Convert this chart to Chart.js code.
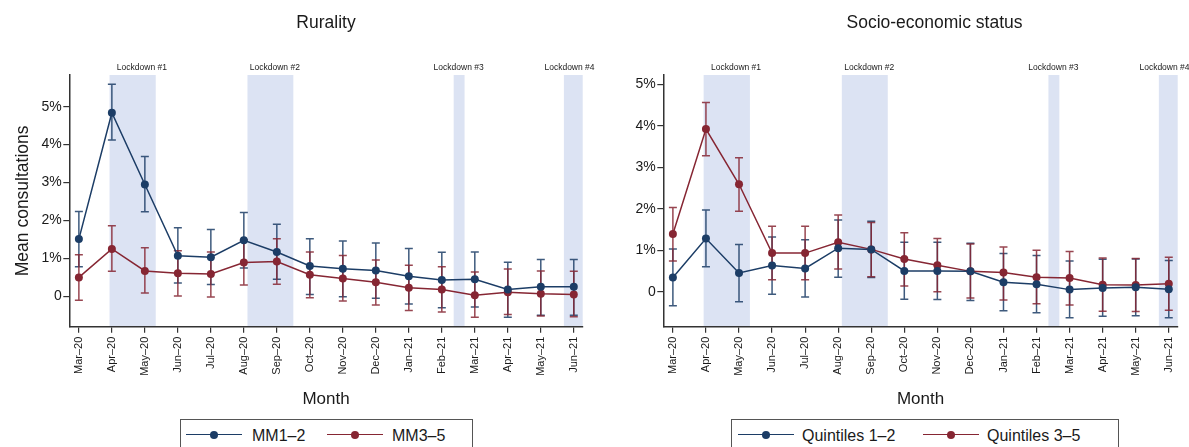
<!DOCTYPE html>
<html>
<head>
<meta charset="utf-8">
<script src="https://cdn.jsdelivr.net/npm/chart.js@4.4.0/dist/chart.umd.min.js"></script>
<style>
  body { margin: 0; background: #fff; width: 1189px; height: 447px; overflow: hidden; position: relative;
         font-family: "Liberation Sans", Arial, sans-serif; color: #1a1a1a; }
  canvas { position: absolute; top: 0; }
  .legend { position: absolute; top: 419px; height: 40px; border: 1px solid #555; box-sizing: border-box; background: #fff; }
  .legend .ln { position: absolute; top: 14px; height: 0; border-top: 1.5px solid; }
  .legend .dot { position: absolute; top: 11px; width: 8px; height: 8px; border-radius: 50%; }
  .legend .txt { position: absolute; top: 7px; font-size: 16px; line-height: 18px; white-space: nowrap; }
</style>
</head>
<body>
<canvas id="rurality" width="610" height="420" style="left:0"></canvas>
<canvas id="ses" width="589" height="420" style="left:600px"></canvas>
<div class="legend" id="leg-rurality" style="left:180px;width:293px"></div>
<div class="legend" id="leg-ses" style="left:731px;width:388px"></div>
<script>
// months on the x axis
const months = ['Mar–20', 'Apr–20', 'May–20', 'Jun–20', 'Jul–20', 'Aug–20', 'Sep–20', 'Oct–20',
                'Nov–20', 'Dec–20', 'Jan–21', 'Feb–21', 'Mar–21', 'Apr–21', 'May–21', 'Jun–21'];

// lockdown periods, in month-index units
const lockNames = ['Lockdown #1', 'Lockdown #2', 'Lockdown #3', 'Lockdown #4'];
const lockStart = [0.93, 5.11, 11.36, 14.7];
const lockEnd = [2.33, 6.5, 11.69, 15.6];
const lockLabelAt = [1.91, 5.94, 11.51, 14.87];

// Rurality (mean consultations, %)
const mm12 = [1.51, 4.84, 2.95, 1.07, 1.03, 1.48, 1.17, 0.80, 0.73, 0.68, 0.53, 0.43, 0.45, 0.18, 0.25, 0.25];
const mm12Lo = [0.78, 4.12, 2.23, 0.35, 0.31, 0.75, 0.45, 0.05, -0.01, -0.05, -0.20, -0.30, -0.28, -0.55, -0.50, -0.50];
const mm12Hi = [2.24, 5.59, 3.69, 1.81, 1.76, 2.21, 1.90, 1.52, 1.46, 1.41, 1.26, 1.16, 1.17, 0.90, 0.97, 0.97];
const mm35 = [0.50, 1.25, 0.67, 0.61, 0.59, 0.89, 0.92, 0.57, 0.47, 0.37, 0.23, 0.18, 0.03, 0.11, 0.07, 0.05];
const mm35Lo = [-0.10, 0.66, 0.09, 0.01, -0.02, 0.30, 0.32, -0.04, -0.12, -0.23, -0.37, -0.41, -0.55, -0.48, -0.52, -0.54];
const mm35Hi = [1.10, 1.86, 1.28, 1.20, 1.17, 1.49, 1.52, 1.17, 1.08, 0.96, 0.82, 0.78, 0.64, 0.72, 0.67, 0.66];

// Socio-economic status (mean consultations, %)
const q12 = [0.34, 1.28, 0.45, 0.63, 0.56, 1.05, 1.02, 0.50, 0.50, 0.49, 0.23, 0.18, 0.05, 0.09, 0.11, 0.06];
const q12Lo = [-0.34, 0.60, -0.24, -0.06, -0.13, 0.35, 0.34, -0.18, -0.19, -0.21, -0.46, -0.51, -0.63, -0.59, -0.58, -0.63];
const q12Hi = [1.03, 1.97, 1.14, 1.32, 1.25, 1.73, 1.70, 1.19, 1.19, 1.17, 0.92, 0.87, 0.74, 0.78, 0.79, 0.75];
const q35 = [1.39, 3.92, 2.59, 0.93, 0.93, 1.19, 1.02, 0.79, 0.64, 0.49, 0.46, 0.35, 0.33, 0.17, 0.16, 0.19];
const q35Lo = [0.74, 3.28, 1.94, 0.29, 0.29, 0.55, 0.36, 0.14, 0.00, -0.15, -0.20, -0.29, -0.32, -0.47, -0.48, -0.45];
const q35Hi = [2.03, 4.56, 3.23, 1.58, 1.58, 1.85, 1.67, 1.42, 1.28, 1.15, 1.08, 1.00, 0.97, 0.81, 0.80, 0.83];

const yTicks = [0, 1, 2, 3, 4, 5];

const BLUE = '#1c3d66';
const RED = '#862633';
const BLUE_ERR = 'rgba(28,61,102,0.85)';
const RED_ERR = 'rgba(134,38,51,0.85)';
const FONT = '"Liberation Sans", Arial, sans-serif';

// bands, error bars, titles and lockdown labels
const panelPlugin = {
  id: 'panel',
  beforeDraw(chart) {
    const { ctx, chartArea: a, scales: { x } } = chart;
    ctx.save();
    ctx.beginPath();
    ctx.rect(a.left, a.top, a.right - a.left, a.bottom - a.top);
    ctx.clip();
    ctx.fillStyle = '#dce3f3';
    lockStart.forEach((s, i) => {
      const x0 = x.getPixelForValue(s);
      const x1 = x.getPixelForValue(lockEnd[i]);
      ctx.fillRect(x0, a.top, x1 - x0, a.bottom - a.top);
    });
    ctx.restore();
  },
  beforeDatasetsDraw(chart, args, opts) {
    const { ctx, scales: { x, y } } = chart;
    ctx.save();
    ctx.lineWidth = 1.5;
    opts.errors.forEach(e => {
      ctx.strokeStyle = e.color;
      e.lo.forEach((lo, i) => {
        const px = x.getPixelForValue(i);
        const y0 = y.getPixelForValue(lo);
        const y1 = y.getPixelForValue(e.hi[i]);
        ctx.beginPath();
        ctx.moveTo(px, y0); ctx.lineTo(px, y1);
        ctx.moveTo(px - 4, y0); ctx.lineTo(px + 4, y0);
        ctx.moveTo(px - 4, y1); ctx.lineTo(px + 4, y1);
        ctx.stroke();
      });
    });
    ctx.restore();
  },
  afterDraw(chart, args, opts) {
    const { ctx, chartArea: a, scales: { x } } = chart;
    ctx.save();
    ctx.fillStyle = '#1a1a1a';
    ctx.textAlign = 'center';
    ctx.textBaseline = 'middle';
    ctx.font = '17.5px ' + FONT;
    ctx.fillText(opts.title, (a.left + a.right) / 2 + opts.titleShift, 23);
    ctx.font = '8.5px ' + FONT;
    lockNames.forEach((n, i) => {
      ctx.fillText(n, x.getPixelForValue(lockLabelAt[i]), 67.5);
    });
    ctx.restore();
  }
};

function series(label, values, color) {
  return {
    label: label,
    data: values.map((v, i) => ({ x: i, y: v })),
    borderColor: color,
    backgroundColor: color,
    borderWidth: 1.5,
    pointRadius: 4,
    pointBorderWidth: 0,
    pointBackgroundColor: color,
    tension: 0
  };
}

function makePanel(id, cfg) {
  new Chart(document.getElementById(id), {
    type: 'line',
    data: { datasets: cfg.datasets },
    plugins: [panelPlugin],
    options: {
      responsive: false,
      animation: false,
      devicePixelRatio: 1,
      layout: { padding: { top: 75, right: cfg.padRight, left: 0, bottom: 0 } },
      plugins: {
        legend: { display: false },
        tooltip: { enabled: false },
        panel: { title: cfg.title, titleShift: cfg.titleShift, errors: cfg.errors }
      },
      scales: {
        x: {
          type: 'linear',
          min: -0.29,
          max: 15.27,
          afterBuildTicks: s => { s.ticks = months.map((m, i) => ({ value: i })); },
          afterFit: s => { s.height = 93.3; },
          ticks: {
            callback: v => months[v],
            maxRotation: 90, minRotation: 90,
            autoSkip: false,
            padding: 4,
            color: '#1a1a1a',
            font: { family: FONT, size: 11 }
          },
          grid: { drawOnChartArea: false, drawTicks: true, tickLength: 6, color: '#333', lineWidth: 1.2 },
          border: { display: true, color: '#333', width: 1.5 },
          title: {
            display: true, text: 'Month', color: '#1a1a1a',
            font: { family: FONT, size: 17 }, padding: { top: 0, bottom: 10.8 }
          }
        },
        y: {
          min: cfg.yMin,
          max: cfg.yMax,
          afterBuildTicks: s => { s.ticks = yTicks.map(v => ({ value: v })); },
          afterFit: s => { s.width = cfg.yWidth; },
          ticks: {
            callback: v => (v === 0 ? '0' : v + '%'),
            padding: 1.5,
            color: '#1a1a1a',
            font: { family: FONT, size: 14 }
          },
          grid: { drawOnChartArea: false, drawTicks: true, tickLength: 6, color: '#333', lineWidth: 1.2 },
          border: { display: true, color: '#333', width: 1.5 },
          title: {
            display: cfg.yTitle !== '', text: cfg.yTitle, color: '#1a1a1a',
            font: { family: FONT, size: 17.5 }, padding: { top: 12.8, bottom: 0 }
          }
        }
      }
    }
  });
}

makePanel('rurality', {
  title: 'Rurality',
  titleShift: 0,
  yTitle: 'Mean consultations',
  yMin: -0.80, yMax: 5.836,
  yWidth: 69.3,
  padRight: 27.3,
  datasets: [series('MM1–2', mm12, BLUE), series('MM3–5', mm35, RED)],
  errors: [{ lo: mm12Lo, hi: mm12Hi, color: BLUE_ERR }, { lo: mm35Lo, hi: mm35Hi, color: RED_ERR }]
});

makePanel('ses', {
  title: 'Socio-economic status',
  titleShift: 14,
  yTitle: '',
  yMin: -0.844, yMax: 5.224,
  yWidth: 63.3,
  padRight: 11.3,
  datasets: [series('Quintiles 1–2', q12, BLUE), series('Quintiles 3–5', q35, RED)],
  errors: [{ lo: q12Lo, hi: q12Hi, color: BLUE_ERR }, { lo: q35Lo, hi: q35Hi, color: RED_ERR }]
});

// legends below each panel
function makeLegend(id, items) {
  const box = document.getElementById(id);
  items.forEach(it => {
    const ln = document.createElement('div');
    ln.className = 'ln';
    ln.style.left = it.line + 'px';
    ln.style.width = '56px';
    ln.style.borderTopColor = it.color;
    const dot = document.createElement('div');
    dot.className = 'dot';
    dot.style.left = (it.line + 24) + 'px';
    dot.style.background = it.color;
    const txt = document.createElement('div');
    txt.className = 'txt';
    txt.style.left = it.text + 'px';
    txt.textContent = it.label;
    box.append(ln, dot, txt);
  });
}

makeLegend('leg-rurality', [
  { label: 'MM1–2', color: BLUE, line: 5, text: 71 },
  { label: 'MM3–5', color: RED, line: 146, text: 211 }
]);
makeLegend('leg-ses', [
  { label: 'Quintiles 1–2', color: BLUE, line: 6, text: 70 },
  { label: 'Quintiles 3–5', color: RED, line: 191, text: 255 }
]);
</script>
</body>
</html>
